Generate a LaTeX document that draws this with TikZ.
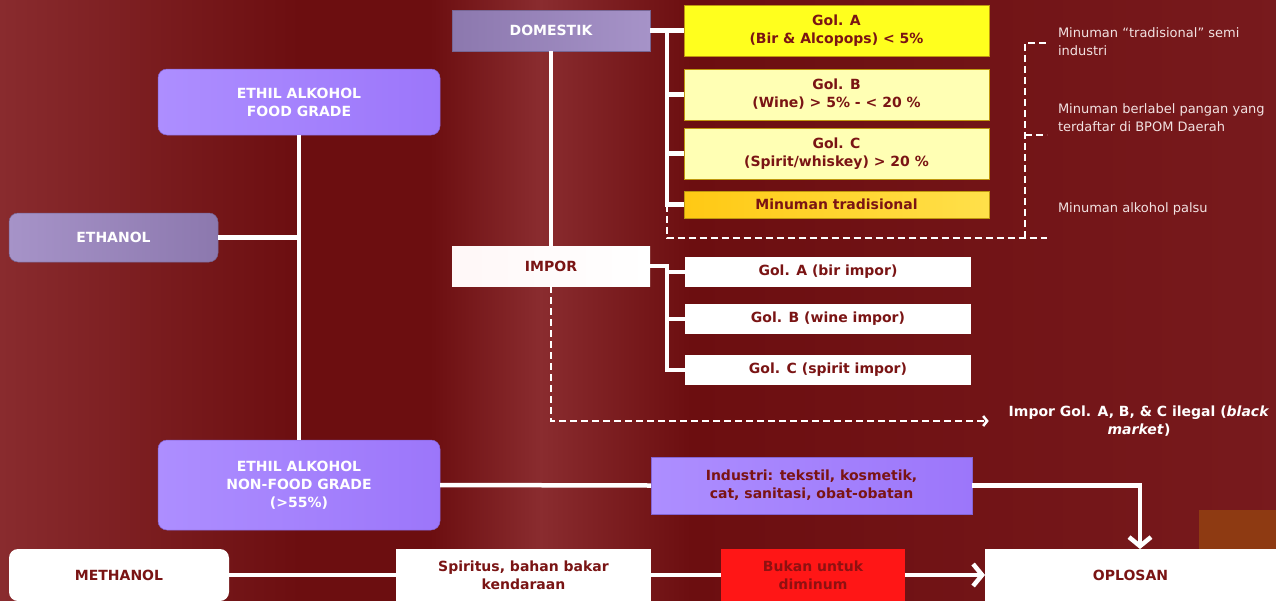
\documentclass[tikz,border=0pt]{standalone}
\usepackage{fontspec}
\setmainfont{DejaVu Sans}
\usepackage{xcolor}
\usepackage{tikz}
\usetikzlibrary{arrows.meta, positioning}

\definecolor{bgdark}{HTML}{6C0E10}
\definecolor{bgmid}{HTML}{781A1D}
\definecolor{bglight}{HTML}{8A2C2F}
\definecolor{ink}{HTML}{7A1414}
\definecolor{lilac}{HTML}{9C76FA}
\definecolor{lilacl}{HTML}{AD8EFF}
\definecolor{mauve}{HTML}{8C78AE}
\definecolor{mauvel}{HTML}{A693C8}
\definecolor{golyel}{HTML}{FFFF1E}
\definecolor{paleyel}{HTML}{FFFFB4}
\definecolor{gold}{HTML}{FFC914}
\definecolor{goldl}{HTML}{FFE04A}
\definecolor{alarm}{HTML}{FF1616}
\definecolor{rust}{HTML}{8E3A12}
\definecolor{notetxt}{HTML}{F2E2E2}

\begin{document}
\begin{tikzpicture}[x=1pt, y=-1pt,
        every node/.style={font=\fontsize{14}{18}\selectfont\bfseries, inner sep=2pt, outer sep=0pt, align=center},
        purp/.style={rectangle, rounded corners=9pt, draw=lilac!85!black, line width=0.5pt, left color=lilacl, right color=lilac, text=white, minimum width=282pt},
        grey/.style={rectangle, draw=mauve!85!black, line width=0.5pt, left color=mauve, right color=mauvel, text=white, minimum width=198pt, minimum height=41pt},
        gol/.style={rectangle, draw=gold!75!black, line width=0.5pt, fill=paleyel, text=ink, minimum width=305pt, minimum height=51pt},
        impbox/.style={rectangle, fill=white, text=ink, minimum width=286pt, minimum height=30pt},
        wbox/.style={rectangle, fill=white, text=ink, minimum height=52pt},
        note/.style={font=\fontsize{13}{18}\selectfont, text=notetxt, align=left, anchor=west, inner sep=0pt},
        link/.style={draw=white, line width=4.5pt},
        dlink/.style={draw=white, line width=2.5pt, dash pattern=on 7pt off 4pt},
        barb/.style={-{Straight Barb[length=9pt, width=22pt]}}]

        \useasboundingbox (0,0) rectangle (1276,600);
        \fill[left color=bglight, right color=bgdark] (-10,-10) rectangle (300,610);
        \fill[bgdark] (299,-10) rectangle (431,610);
        \fill[left color=bgdark, right color=bglight] (430,-10) rectangle (541,610);
        \fill[left color=bglight, right color=bgdark] (540,-10) rectangle (691,610);
        \fill[left color=bgdark, right color=bgmid] (690,-10) rectangle (1286,610);
        \fill[rust] (1199,510) rectangle (1286,549);

        \node (eth) [purp, left color=mauvel, right color=mauve, draw=mauve!85!black, minimum width=209pt, minimum height=49pt] at (113.5,237.5) {ETHANOL};
        \node (fg) [purp, minimum height=66pt] at (299,102) {ETHIL ALKOHOL\\FOOD GRADE};
        \node (nfg) [purp, minimum height=90pt, below=305pt of fg] {ETHIL ALKOHOL\\NON-FOOD GRADE\\(>55\%)};

        \node (dom) [grey] at (551,30.5) {DOMESTIK};
        \node (ga) [gol, fill=golyel, right=34pt of dom] {Gol. A\\(Bir \& Alcopops) < 5\%};
        \node (gb) [gol, below=13pt of ga] {Gol. B\\(Wine) > 5\% - < 20 \%};
        \node (gc) [gol, below=8pt of gb] {Gol. C\\(Spirit/whiskey) > 20 \%};
        \node (gt) [gol, left color=gold, right color=goldl, minimum height=27pt, below=12pt of gc] {Minuman tradisional};

        \node (imp) [grey, left color=white!88!pink, right color=white, draw=none, text=ink, minimum height=40pt, below=195pt of dom] {IMPOR};
        \node (ia) [impbox, right=35pt of imp, yshift=-6pt] {Gol. A (bir impor)};
        \node (ib) [impbox, below=17pt of ia] {Gol. B (wine impor)};
        \node (ic) [impbox, below=21pt of ib] {Gol. C (spirit impor)};

        \node (t1) [note] at (1058,42) {Minuman “tradisional” semi\\industri};
        \node (t2) [note] at (1058,118) {Minuman berlabel pangan yang\\terdaftar di BPOM Daerah};
        \node (t3) [note] at (1058,209) {Minuman alkohol palsu};
        \node (ilg) [text=white] at (1139,421) {Impor Gol. A, B, \& C ilegal (\textit{black}\\\textit{market})};

        \node (ind) [purp, rounded corners=0pt, text=ink, minimum width=321pt, minimum height=57pt] at (811.5,485.5) {Industri: tekstil, kosmetik,\\cat, sanitasi, obat-obatan};

        \node (meth) [wbox, rounded corners=9pt, minimum width=220pt] at (119,575) {METHANOL};
        \node (spir) [wbox, minimum width=255pt, right=167pt of meth] {Spiritus, bahan bakar\\kendaraan};
        \node (bkn) [wbox, fill=alarm, text=ink!85!red, minimum width=184pt, right=70pt of spir] {Bukan untuk\\diminum};
        \node (opl) [wbox, minimum width=291pt, right=80pt of bkn] {OPLOSAN};

        \coordinate (trunk) at (eth.east -| fg.south);
        \coordinate (dbus) at (667,30.5);
        \coordinate (ibus) at (667,266);
        \coordinate (fbot) at (1025,238);
        \coordinate (ftop) at (1025,43);
        \coordinate (fmid) at (1025,135);

        \draw[link] (fg.south) -- (nfg.north);
        \draw[link] (eth.east) -- (trunk);

        \draw[link] (dom.east) -- (ga.west);
        \draw[link] (dbus) |- (gt.west);
        \foreach \g in {gb, gc}
            \draw[link] (dbus |- \g.west) -- (\g.west);
        \draw[dlink] (dbus |- gt.west) |- (fbot) -- ++(22,0);
        \draw[dlink] (fbot) -- (ftop) -- ++(22,0);
        \draw[dlink] (fmid) -- ++(22,0);

        \draw[link] (dom.south) -- (imp.north);
        \draw[link] (imp.east) -- (ibus) |- (ic.west);
        \foreach \g in {ia, ib}
            \draw[link] (ibus |- \g.west) -- (\g.west);
        \draw[dlink, -{Straight Barb[length=4pt, width=10pt]}, shorten >=18pt] (imp.south) |- (ilg.west);

        \draw[link] (nfg.east) -- (ind.west);
        \draw[link, barb] (ind.east) -| ([xshift=9.5pt]opl.north);

        \draw[link] (meth.east) -- (spir.west);
        \draw[link] (spir.east) -- (bkn.west);
        \draw[link, barb] (bkn.east) -- (opl.west);
    \end{tikzpicture}
\end{document}
